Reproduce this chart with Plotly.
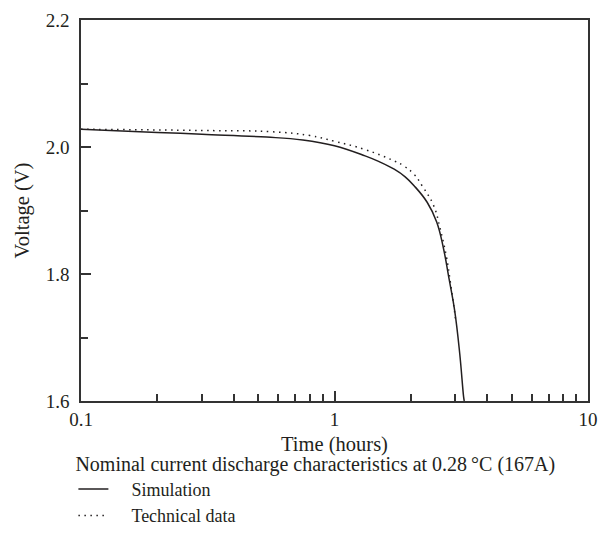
import plotly.graph_objects as go

sim_time = [0.1, 0.2, 0.3, 0.54, 0.75, 1.0, 1.32, 1.5, 1.72, 1.9, 2.06, 2.32, 2.53, 2.69, 2.835, 2.98, 3.12, 3.23, 3.25]
sim_volt = [2.028, 2.023, 2.020, 2.0156, 2.011, 2.002, 1.986, 1.977, 1.965, 1.953, 1.939, 1.913, 1.882, 1.8405, 1.791, 1.742, 1.674, 1.607, 1.6]

tech_time = [0.1, 0.3, 0.57, 0.8, 1.0, 1.32, 1.72, 1.88, 2.06, 2.216, 2.46, 2.61, 2.77, 2.86, 2.98, 3.0]
tech_volt = [2.028, 2.026, 2.024, 2.018, 2.009, 1.996, 1.978, 1.970, 1.957, 1.939, 1.908, 1.8716, 1.825, 1.789, 1.739, 1.73]

x_major = [0.1, 1, 10]
x_major_text = ["0.1", "1", "10"]
x_minor = [0.2, 0.3, 0.4, 0.5, 0.6, 0.7, 0.8, 0.9, 2, 3, 4, 5, 6, 7, 8, 9]
y_major = [1.6, 1.8, 2.0, 2.2]
y_major_text = ["1.6", "1.8", "2.0", "2.2"]
y_minor = [1.7, 1.9, 2.1]

FONT = "Liberation Serif"
INK = "#231f20"
PAD = "\u00a0\u00a0\u00a0\u00a0"


def f(size):
    return dict(family=FONT, size=size, color=INK)


fig = go.Figure()
fig.add_trace(go.Scatter(x=sim_time, y=sim_volt, mode="lines", name=PAD + "Simulation",
                         line=dict(color=INK, width=1.5, shape="spline", smoothing=1.2)))
fig.add_trace(go.Scatter(x=tech_time, y=tech_volt, mode="lines", name=PAD + "Technical data",
                         line=dict(color=INK, width=1.5, dash="1.5px,4.5px", shape="spline", smoothing=1.2)))

fig.update_layout(
    width=608, height=554,
    margin=dict(l=81, r=10, t=16, b=153),
    paper_bgcolor="white", plot_bgcolor="white",
    font=f(19),
    showlegend=True,
    legend=dict(
        title=dict(text="Nominal current discharge characteristics at 0.28\u202f\u00b0C (167A)",
                   font=f(20)),
        orientation="v", x=-0.015, xanchor="left", y=-0.115, yanchor="top",
        bgcolor="rgba(0,0,0,0)", itemwidth=30, tracegroupgap=0,
        font=f(18),
    ),
    xaxis=dict(
        type="log", range=[-1, 1],
        tickmode="array", tickvals=x_major, ticktext=x_major_text,
        tickfont=f(19),
        ticks="inside", ticklen=10, tickwidth=1.5, tickcolor="#333",
        showline=True, linecolor="#333", linewidth=1.5, mirror=True,
        showgrid=False, zeroline=False,
        minor=dict(tickmode="array", tickvals=x_minor, ticks="inside", ticklen=7,
                   tickwidth=1.5, tickcolor="#333", showgrid=False),
        title=dict(text="Time (hours)", standoff=8, font=f(20.5)),
    ),
    yaxis=dict(
        range=[1.6, 2.2],
        tickmode="array", tickvals=y_major, ticktext=y_major_text,
        tickfont=f(19),
        ticks="inside", ticklen=10, tickwidth=1.5, tickcolor="#333",
        ticklabelstandoff=6,
        showline=True, linecolor="#333", linewidth=1.5, mirror=True,
        showgrid=False, zeroline=False,
        minor=dict(tickmode="array", tickvals=y_minor, ticks="inside", ticklen=7,
                   tickwidth=1.5, tickcolor="#333", showgrid=False),
        title=dict(text="Voltage (V)", standoff=11, font=f(20.5)),
    ),
)

fig.write_html("out.html", config={"displayModeBar": False},
               post_script="document.body.style.margin='0';")
